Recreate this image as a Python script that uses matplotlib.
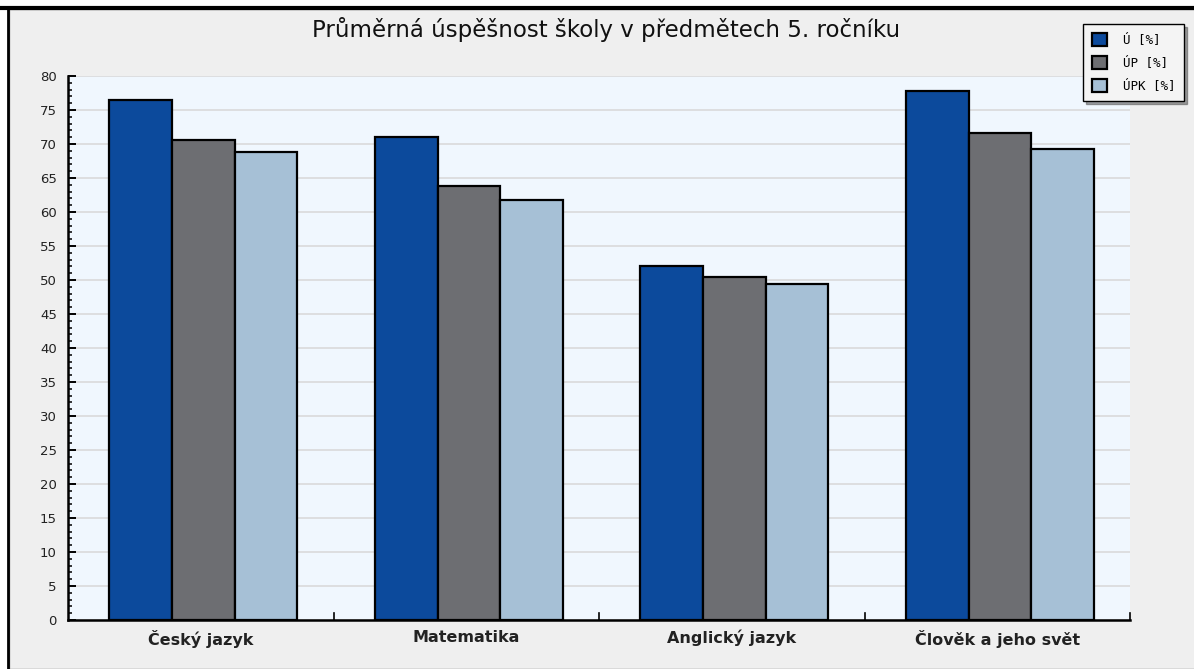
import matplotlib.pyplot as plt
import numpy as np
from matplotlib.patches import Rectangle

subjects = ['Český jazyk', 'Matematika', 'Anglický jazyk', 'Člověk a jeho svět']
u = [76.5, 71.0, 52.0, 77.8]
up = [70.6, 63.8, 50.5, 71.6]
upk = [68.8, 61.8, 49.4, 69.2]
series = ['Ú [%]', 'ÚP [%]', 'ÚPK [%]']
colors = ['#0c4a9c', '#6d6e72', '#a6c0d6']

fig = plt.figure(figsize=(11.94, 6.69), dpi=100)
fig.patch.set_facecolor('white')

# grey panel with black top/left border
fig.patches.append(Rectangle((9/1194, 0), 1, 1 - 9/669, transform=fig.transFigure,
                             facecolor='#efefef', edgecolor='#888888', lw=1, zorder=-5))
fig.add_artist(plt.Line2D([0, 1], [1 - 8/669, 1 - 8/669], transform=fig.transFigure, color='black', lw=3))
fig.add_artist(plt.Line2D([8/1194, 8/1194], [0, 1 - 8/669], transform=fig.transFigure, color='black', lw=2))

ax = fig.add_axes([68/1194, 1 - 620/669, (1130 - 68)/1194, (620 - 76)/669])
ax.set_facecolor('#f0f7fe')

x = np.arange(len(subjects))
w = 0.236
for i, vals in enumerate([u, up, upk]):
    ax.bar(x + (i - 1) * w + 0.01, vals, w, color=colors[i], edgecolor='black', lw=1.6,
           label=series[i], zorder=3)

ax.set_xlim(-0.5, 3.5)
ax.set_ylim(0, 80)
ax.set_yticks(range(0, 81, 5))
ax.set_yticks(range(0, 81, 1), minor=True)
ax.tick_params(axis='y', which='major', direction='in', length=6, width=1.4,
               labelsize=9.5, colors='black', pad=8)
ax.tick_params(axis='y', which='minor', direction='in', length=3.2, width=1.1)
for lbl in ax.get_yticklabels():
    lbl.set_color('#222222')
ax.grid(axis='y', color='#dadada', lw=1.2, zorder=0)

ax.set_xticks(x)
ax.set_xticklabels(subjects, fontsize=11.5, fontweight='bold', color='#222222')
ax.tick_params(axis='x', length=0, pad=7)
for b in [0.5, 1.5, 2.5, 3.5]:
    ax.plot([b, b], [0, 1.1], color='black', lw=1.2, zorder=4, clip_on=False)

for s in ['top', 'right']:
    ax.spines[s].set_visible(False)
for s in ['left', 'bottom']:
    ax.spines[s].set_linewidth(1.8)

fig.text(0.508, 1 - 30/669, 'Průměrná úspěšnost školy v předmětech 5. ročníku',
         ha='center', va='center', fontsize=16.5, color='#111111')

leg = fig.legend(loc='upper right', bbox_to_anchor=(1184/1194, 1 - 24/669),
                 frameon=True, fancybox=False, shadow=True,
                 handlelength=1.2, handleheight=1.2, borderpad=0.7, labelspacing=0.75,
                 handletextpad=1.3, borderaxespad=0,
                 prop={'family': 'DejaVu Sans Mono', 'size': 9})
leg.get_frame().set_edgecolor('black')
leg.get_frame().set_facecolor('#f4f4f4')
leg.get_frame().set_linewidth(1)

fig.savefig('out.png', dpi=100)
